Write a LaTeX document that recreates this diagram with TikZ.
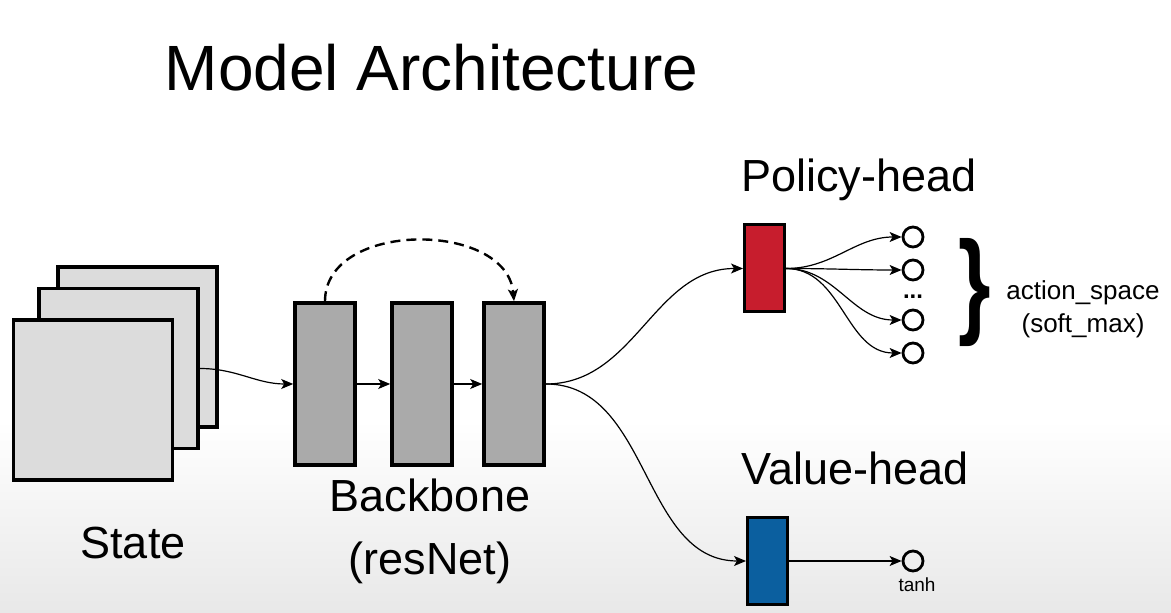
\documentclass[tikz,border=0pt]{standalone}
\usepackage{fontspec}
\setmainfont{Liberation Sans}
\usetikzlibrary{positioning,arrows.meta,decorations.pathreplacing}

\definecolor{layergray}{HTML}{DCDCDC}
\definecolor{blockgray}{HTML}{AAAAAA}
\definecolor{policyred}{HTML}{C71D2D}
\definecolor{valueblue}{HTML}{0B5F9F}

\begin{document}
\begin{tikzpicture}[x=0.5pt,y=-0.5pt,
  layer/.style={draw,line width=1.8pt,fill=layergray,minimum width=79.5pt,minimum height=80pt,inner sep=0pt},
  block/.style={draw,line width=1.8pt,fill=blockgray,minimum width=30pt,minimum height=81pt,inner sep=0pt},
  head/.style={draw,line width=1.5pt,minimum width=20pt,minimum height=43.5pt,inner sep=0pt},
  unit/.style={circle,draw,line width=1.4pt,minimum size=10pt,inner sep=0pt},
  lbl/.style={font=\fontsize{22.5}{31.5}\selectfont,align=center},
  link/.style={-{Stealth[length=6pt,width=5pt,inset=1.5pt]},line width=0.6pt}]

% background
\fill[white] (0,0) rectangle (1171,613);
\shade[top color=white,bottom color=black!9] (0,420) rectangle (1171,613);
\useasboundingbox (0,0) rectangle (1171,613);

\node[font=\fontsize{32}{38}\selectfont] (title) at (431.5,68) {Model Architecture};

% state
\node[layer] (s3) at (137.5,347) {};
\node[layer] (s2) at (118.5,368.5) {};
\node[layer] (s1) at (93,400) {};
\node[lbl] (state) at (133,543) {State};

% backbone
\node[block] (b1) at (325,384) {};
\node[block] (b2) at (422,384) {};
\node[block] (b3) at (514,384) {};
\node[lbl] (backbone) at (430,531) {Backbone\\(resNet)};

\draw[link] (s2.east) to[out=0,in=180] (b1.west);
\draw[link] (b1) -- (b2);
\draw[link] (b2) -- (b3);
\draw[link,dashed,line width=1.2pt,dash pattern=on 5pt off 3pt] (b1.north) to[out=90,in=95,looseness=1.1] (b3.north);

% heads
\node[lbl] (ptitle) at (859,180) {Policy-head};
\node[head,fill=policyred] (pol) at (764.5,268.5) {};
\node[lbl] (vtitle) at (855,468) {Value-head};
\node[head,fill=valueblue] (val) at (767.5,561) {};

\draw[link] (b3.east) to[out=0,in=180] (pol.west);
\draw[link] (b3.east) to[out=0,in=180] (val.west);

% policy outputs
\node[unit] (o1) at (913,237) {};
\node[unit] (o2) at (913,270) {};
\node[unit] (o3) at (913,320) {};
\node[unit] (o4) at (913,353) {};
\node[font=\fontsize{12}{15}\selectfont\bfseries,anchor=base] (dots) at (913,299) {...};
\foreach \i in {1,...,4}
  \draw[link] (pol.east) to[out=0,in=180] (o\i.west);

\node[font=\fontsize{58}{64}\selectfont\bfseries,inner sep=0pt] (brace) at (975,293) {\scalebox{0.72}[1]{\}}};
\node[font=\fontsize{13}{16.5}\selectfont,align=center] (space) at (1083,309) {action\_space\\(soft\_max)};

% value output
\node[unit] (v1) at (913,561) {};
\node[font=\fontsize{9.5}{11}\selectfont] (tanh) at (917,585) {tanh};
\draw[link] (val.east) -- (v1.west);

\end{tikzpicture}
\end{document}
